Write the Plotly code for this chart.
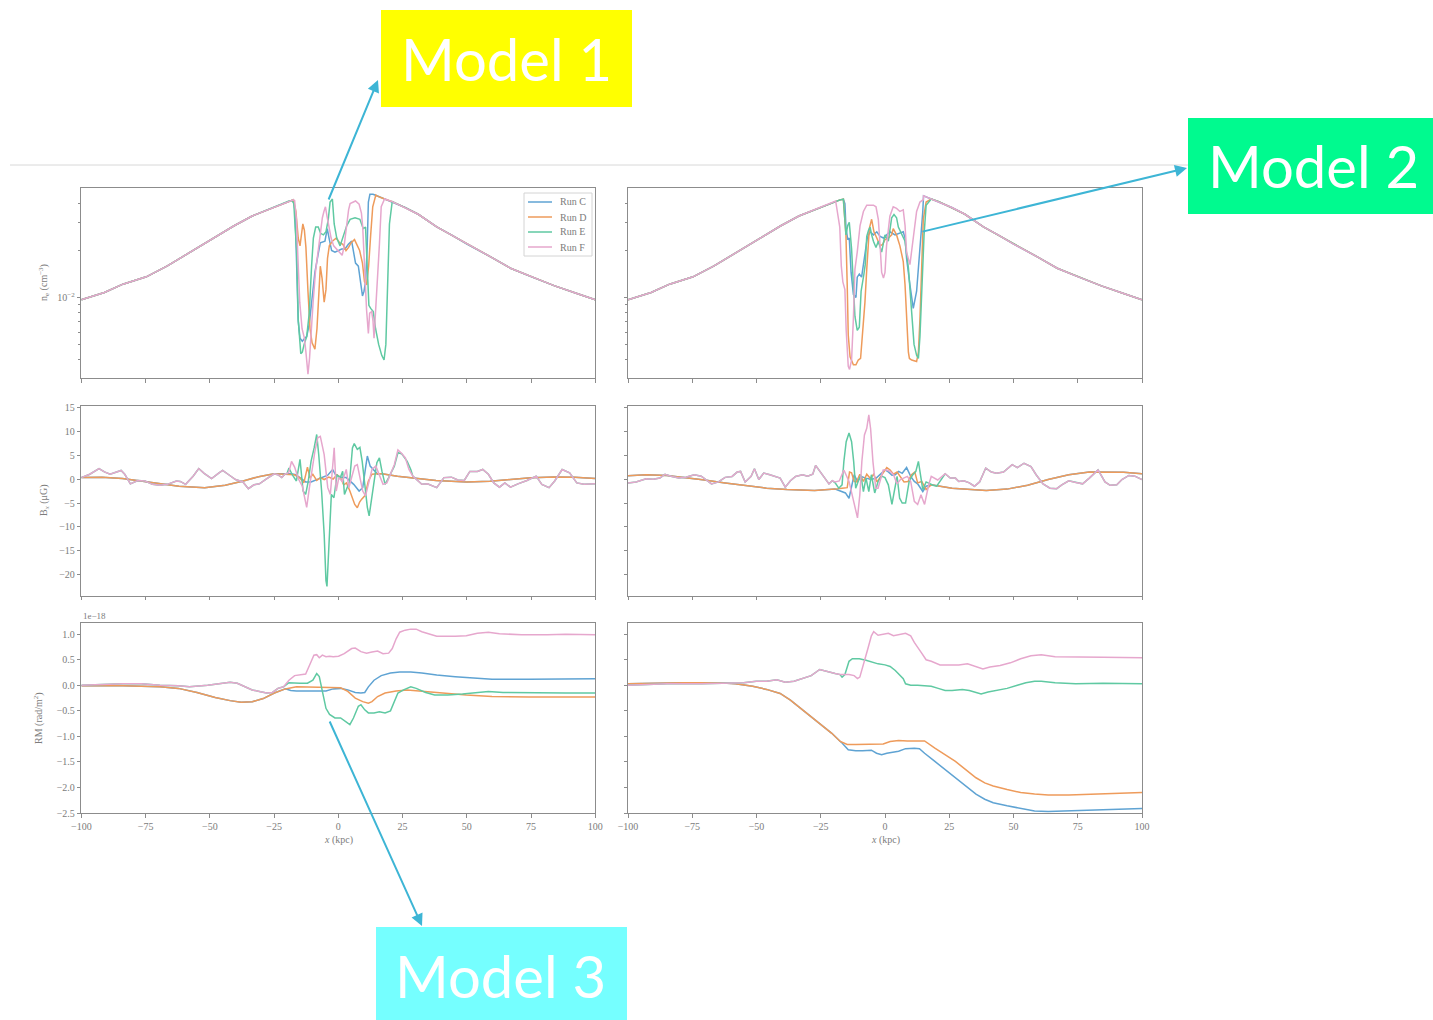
import plotly.graph_objects as go

W, H = 1433, 1020

RUNS = ["Run C", "Run D", "Run E", "Run F"]
COLORS = ["#5fa3d3", "#ee9b5b", "#5fc9a2", "#e6a7cd"]

X_TICKS = [-100, -75, -50, -25, 0, 25, 50, 75, 100]
X_TICK_TEXT = ["−100", "−75", "−50", "−25", "0", "25", "50", "75", "100"]
BX_TICKS = [-20, -15, -10, -5, 0, 5, 10, 15]
BX_TICK_TEXT = ["−20", "−15", "−10", "−5", "0", "5", "10", "15"]
RM_TICKS = [-2.5, -2.0, -1.5, -1.0, -0.5, 0.0, 0.5, 1.0]
RM_TICK_TEXT = ["−2.5", "−2.0", "−1.5", "−1.0", "−0.5", "0.0", "0.5", "1.0"]
NE_MINOR = [0.003, 0.004, 0.005, 0.006, 0.007, 0.008, 0.009, 0.02, 0.03, 0.04]

# ---------------- electron density, log10(n_e / cm^-3) ----------------
# undisturbed cluster profile shared by every run
NE_PROFILE_L_X = [-100, -91, -83.8, -74.7, -66.5, -59.4, -49.9, -40.7, -33.5, -24.9, -21.4, -19.2, -17.5, -16.2]
NE_PROFILE_L = [-2.015, -1.968, -1.915, -1.868, -1.798, -1.728, -1.638, -1.543, -1.479, -1.421, -1.400, -1.383, -1.376, -1.372]
NE_PROFILE_R_X = [12.5, 15, 18, 21, 26, 31.1, 38.3, 44, 50.2, 59.8, 67.0, 75.2, 84.2, 92, 100]
NE_PROFILE_R = [-1.335, -1.350, -1.370, -1.387, -1.425, -1.468, -1.549, -1.600, -1.660, -1.745, -1.813, -1.868, -1.926, -1.970, -2.015]

# Model 1 cores
NE1_C_X = [-16.8, -16.2, -15.6, -14.9, -14.0, -13.0, -12.3, -11.3, -10.4, -9.1, -7.8, -7.0, -5.2, -4.3, -3.6, -2.6, -1.3, 0.0, 1.3, 2.6, 3.9, 5.2, 6.0, 6.7, 7.8, 8.3, 8.9, 9.4, 10.0, 10.6, 11.2, 11.7, 12.3, 13.5]
NE1_C = [-1.45, -1.80, -2.15, -2.26, -2.28, -2.26, -2.25, -2.17, -2.03, -1.84, -1.72, -1.65, -1.64, -1.56, -1.62, -1.70, -1.71, -1.70, -1.69, -1.69, -1.66, -1.64, -1.72, -1.78, -1.80, -1.87, -1.96, -1.99, -1.96, -1.90, -1.70, -1.39, -1.34, -1.34]
NE1_D_X = [-16.5, -15.6, -14.9, -14.3, -13.8, -13.2, -12.6, -11.8, -11.0, -10.2, -9.1, -8.3, -7.6, -7.0, -6.3, -5.5, -4.8, -4.2, -3.5, -2.3, -0.8, 0.5, 1.8, 3.0, 4.0, 5.0, 6.3, 7.3, 8.3, 9.4, 10.2, 11.0, 11.8, 12.6, 13.4, 14.6]
NE1_D = [-1.45, -1.62, -1.67, -1.58, -1.53, -1.57, -1.68, -1.96, -2.20, -2.29, -2.33, -2.20, -1.95, -1.80, -1.88, -2.03, -1.95, -1.75, -1.67, -1.64, -1.62, -1.65, -1.66, -1.70, -1.68, -1.65, -1.63, -1.66, -1.70, -1.78, -1.90, -1.92, -1.80, -1.60, -1.42, -1.345]
NE1_E_X = [-18.0, -17.3, -16.8, -16.2, -15.6, -15.0, -14.6, -14.0, -13.3, -12.3, -11.3, -10.4, -9.7, -8.8, -7.8, -6.9, -5.8, -4.8, -3.9, -3.2, -2.3, -1.6, -0.6, 0.7, 1.5, 2.6, 3.3, 4.6, 6.5, 8.4, 9.7, 10.6, 11.3, 11.9, 12.6, 13.6, 14.5, 15.7, 16.9, 17.8, 18.5, 19.1, 19.9, 20.8]
NE1_E = [-1.38, -1.40, -1.55, -1.70, -2.14, -2.31, -2.36, -2.35, -2.30, -2.25, -2.10, -1.80, -1.62, -1.55, -1.55, -1.59, -1.60, -1.58, -1.50, -1.39, -1.37, -1.53, -1.62, -1.67, -1.63, -1.58, -1.54, -1.50, -1.49, -1.50, -1.56, -1.55, -1.82, -2.05, -2.07, -2.09, -2.20, -2.30, -2.37, -2.40, -2.30, -1.92, -1.53, -1.41]
NE1_F_X = [-17.0, -16.3, -15.8, -15.0, -14.1, -13.2, -12.6, -12.2, -11.8, -11.2, -10.6, -9.8, -8.9, -8.0, -7.1, -6.2, -5.6, -5.0, -4.4, -3.6, -2.8, -1.8, -0.6, 0.5, 1.5, 2.2, 2.8, 3.4, 4.0, 4.6, 5.8, 6.7, 8.1, 9.0, 9.5, 10.3, 11.0, 11.7, 12.2, 13.0, 13.5, 13.9, 14.5, 15.3, 16.0, 16.7, 17.5]
NE1_F = [-1.38, -1.50, -1.71, -2.03, -2.20, -2.26, -2.35, -2.44, -2.49, -2.39, -2.22, -2.03, -1.84, -1.71, -1.62, -1.49, -1.45, -1.42, -1.48, -1.55, -1.62, -1.67, -1.69, -1.71, -1.73, -1.68, -1.60, -1.54, -1.44, -1.40, -1.39, -1.383, -1.404, -1.46, -1.55, -1.87, -2.08, -2.23, -2.10, -2.09, -2.15, -2.26, -2.10, -1.85, -1.66, -1.42, -1.39]

# Model 2 cores
NE2_C_X = [-15.6, -15.2, -14.5, -13.9, -13.2, -12.3, -11.3, -10.8, -10.0, -9.1, -7.8, -6.9, -5.8, -4.5, -3.2, -1.9, -0.6, 0.6, 1.9, 3.9, 5.8, 7.1, 7.8, 8.4, 9.7, 11.0, 12.3, 13.6, 14.7]
NE2_C = [-1.40, -1.55, -1.63, -1.62, -1.84, -1.98, -2.00, -1.87, -1.85, -1.87, -1.72, -1.62, -1.58, -1.60, -1.58, -1.61, -1.62, -1.60, -1.58, -1.60, -1.59, -1.58, -1.62, -1.75, -1.92, -2.07, -1.96, -1.70, -1.45]
NE2_D_X = [-15.2, -14.7, -14.3, -13.6, -13.0, -12.3, -11.3, -10.4, -9.5, -8.7, -7.8, -7.1, -6.1, -5.2, -4.3, -3.2, -1.9, -0.9, 0.0, 1.3, 2.6, 3.2, 4.5, 5.8, 7.1, 7.8, 8.4, 9.1, 9.5, 10.4, 12.3, 13.0, 13.6, 14.3, 14.9, 16.0]
NE2_D = [-1.60, -1.92, -2.24, -2.38, -2.41, -2.43, -2.43, -2.40, -2.39, -2.24, -2.03, -1.82, -1.56, -1.50, -1.58, -1.62, -1.67, -1.66, -1.63, -1.62, -1.60, -1.56, -1.60, -1.67, -1.77, -1.92, -2.14, -2.35, -2.39, -2.40, -2.41, -2.35, -2.14, -1.82, -1.50, -1.39]
NE2_E_X = [-15.6, -15.2, -14.5, -13.9, -13.0, -12.3, -11.7, -10.8, -10.0, -9.3, -8.7, -8.2, -7.7, -7.1, -6.4, -5.8, -5.2, -4.5, -3.5, -2.6, -1.3, -0.6, 0.0, 1.3, 2.6, 3.5, 4.5, 5.2, 6.5, 7.8, 9.1, 10.4, 11.3, 12.3, 13.0, 13.6, 14.3, 15.2, 16.0]
NE2_E = [-1.50, -1.60, -1.54, -1.52, -1.69, -1.95, -2.12, -2.21, -2.19, -1.96, -1.91, -1.85, -1.79, -1.61, -1.57, -1.55, -1.60, -1.64, -1.68, -1.64, -1.71, -1.64, -1.60, -1.64, -1.49, -1.47, -1.49, -1.55, -1.60, -1.64, -1.81, -2.07, -2.30, -2.37, -2.39, -2.25, -1.92, -1.60, -1.41]
NE2_F_X = [-17.6, -17.0, -16.4, -15.6, -15.1, -14.3, -13.8, -13.0, -12.3, -11.7, -10.8, -9.7, -8.4, -7.1, -5.8, -4.5, -3.5, -2.6, -1.9, -1.3, -0.6, 0.0, 0.6, 1.9, 3.2, 4.5, 5.8, 7.1, 7.8, 8.4, 9.7, 11.0, 12.3, 13.6, 14.9]
NE2_F = [-1.55, -1.80, -1.90, -1.95, -2.21, -2.44, -2.46, -2.40, -2.135, -1.82, -1.71, -1.54, -1.45, -1.41, -1.41, -1.41, -1.42, -1.50, -1.67, -1.84, -1.876, -1.84, -1.67, -1.48, -1.42, -1.43, -1.45, -1.44, -1.54, -1.71, -1.79, -1.60, -1.45, -1.39, -1.375]

# ---------------- B_x (muG) ----------------
# Model 1: smooth field (C, D) and turbulent field (E, F) outside the core
BX1_SMOOTH_X = [-100, -92, -84, -77, -70, -62, -52, -44, -37, -31, -25, -20, 17, 23, 29.6, 38, 50, 59, 67, 75, 84, 92, 100]
BX1_SMOOTH = [0.3, 0.4, 0.1, -0.4, -1.0, -1.5, -1.8, -1.3, -0.4, 0.5, 1.1, 1.0, 1.1, 0.6, 0.2, -0.3, -0.6, -0.45, -0.1, 0.25, 0.45, 0.4, 0.1]
BX1_TURB_X = [-100, -96.7, -93.1, -91, -88.8, -86.6, -84.5, -83.1, -80.9, -78, -75.2, -72.3, -69.4, -66.5, -63, -61.5, -59.4, -56.5, -54.3, -52.2, -49.3, -46.4, -45, -42.9, -40, -37.1, -35, -32.8, -30.7, -27.8, -24.9, -23.5, -22, -20.6,
              29.6, 32.5, 34.7, 36.5, 38.3, 41.1, 44.0, 46.5, 49, 51.2, 54.1, 56.2, 58.4, 60.5, 62.7, 64.8, 67, 69.9, 73.4, 77, 79.2, 82, 84.2, 87.1, 90, 92.8, 95.6, 100]
BX1_TURB = [0.3, 1.0, 2.2, 1.5, 1.0, 1.4, 1.8, 1.0, -1.0, -0.3, -0.4, -1.1, -1.3, -1.1, -0.4, -0.5, -1.1, 0.6, 2.2, 1.2, 0.1, 1.3, 1.8, 1.0, -0.1, -0.6, -2.0, -1.2, -1.0, 0.1, 1.1, 0.9, 0.3, 1.1,
            0.3, -1.1, -1.0, -1.4, -1.8, 0.3, 0.4, -0.2, -0.3, 1.6, 1.6, 2.0, 1.0, -0.8, -1.7, -0.8, -1.7, -1.0, -0.3, 0.6, -1.1, -1.8, -0.4, 2.0, 1.3, -0.8, -1.1, -1.0]
BX1_C_X = [-19.2, -18.4, -16.5, -15.1, -13.7, -12.7, -10.6, -8.4, -6.2, -4.1, -2.2, -1.2, 0.2, 1.6, 3.1, 4.5, 6.0, 8.1, 9.5, 10.7, 11.3, 12.4, 13.8, 15.3, 16.5]
BX1_C = [1.0, 1.1, 0.9, 0.3, -0.3, -0.6, -0.6, -0.1, 0.3, 0.8, 2.0, 1.0, 0.6, 0.3, 0.3, -0.3, -1.1, -2.5, -1.8, 2.7, 4.8, 2.7, 1.8, 1.0, 1.1]
BX1_D_X = [-19.2, -17.1, -15.1, -13.4, -12.0, -11.0, -9.9, -8.4, -7.0, -5.5, -3.7, -2.0, -0.5, 0.9, 2.1, 3.2, 4.5, 6.4, 7.4, 8.3, 9.1, 10.3, 11.7, 13.1, 15.3, 16.5]
BX1_D = [1.0, 0.9, 0.3, -0.8, 2.5, 0.2, 1.0, -0.3, 0.3, -0.1, 0.4, 0.0, 0.9, 0.3, -1.2, -0.8, -2.5, -5.3, -6.0, -4.8, -4.2, -3.5, -0.4, 1.0, 1.1, 1.1]
BX1_E_X = [-20.0, -19.2, -17.8, -16.3, -14.9, -13.7, -12.7, -11.7, -10.6, -9.4, -8.4, -7.6, -6.5, -5.5, -4.8, -4.4, -3.7, -2.7, -1.7, -0.5, 0.7, 1.7, 2.4, 3.4, 4.4, 5.5, 6.2, 7.4, 8.4, 9.3, 10.3, 11.3, 12.0, 12.7, 13.8, 15.0, 16.0, 17.0, 18.2, 19.6, 21.8, 23.2, 24.6, 26.8, 28.2, 29.0]
BX1_E = [1.1, 2.3, 0.8, -0.4, 4.1, -2.5, -3.2, -0.5, 3.7, 6.5, 9.3, 5.0, -2.5, -11.5, -21.2, -22.4, -15.6, -3.2, -3.9, 0.9, 0.2, 1.6, -3.2, -1.9, -0.5, 6.5, 7.4, 6.2, 6.6, 3.7, -1.8, -5.9, -7.7, -4.6, -1.0, 3.4, 4.4, 1.6, -1.1, 0.3, 2.7, 5.5, 5.3, 3.7, 2.0, 0.6]
BX1_F_X = [-20.0, -19.2, -18.2, -17.0, -15.5, -14.0, -12.3, -11.3, -10.3, -9.1, -8.0, -7.0, -5.5, -4.1, -3.1, -2.3, -1.6, -0.8, 0.2, 1.6, 3.1, 4.1, 5.2, 6.4, 7.4, 8.4, 9.5, 10.6, 11.8, 13.1, 14.6, 16.0, 17.4, 18.9, 20.3, 21.8, 23.2, 24.6, 26.1, 27.5, 29.0]
BX1_F = [1.1, 1.5, 3.7, 2.5, 0.0, -1.5, -5.9, -2.0, 1.6, 5.8, 8.6, 8.9, 5.1, -1.8, -3.2, 1.5, 6.5, -2.5, 0.3, -0.5, 2.0, -1.8, 0.5, 2.7, 3.0, 0.6, -2.5, -3.5, -1.0, 2.0, 2.7, 0.6, -1.1, -0.8, 1.0, 3.0, 6.1, 5.4, 4.4, 2.0, 0.6]

# Model 2
BX2_SMOOTH_X = [-100, -92.9, -84.9, -78.2, -70.2, -62.2, -54.1, -46.1, -38.1, -27.4, -19.4, 18.0, 26.1, 34.1, 39.4, 47.5, 55.5, 63.5, 71.5, 79.5, 86.2, 92.9, 100]
BX2_SMOOTH = [0.7, 0.9, 0.76, 0.35, -0.2, -0.8, -1.4, -1.9, -2.2, -2.4, -2.1, -1.2, -1.9, -2.2, -2.4, -2.1, -1.3, -0.1, 0.9, 1.46, 1.5, 1.4, 1.1]
BX2_TURB_X = [-100, -96.9, -92.9, -90.2, -87.6, -85.6, -82.9, -80.2, -77.5, -74.2, -71.5, -69.9, -67.5, -64.8, -62.2, -59.5, -57.5, -56.2, -54.4, -52.1, -50.8, -49.1, -47.2, -44.8, -42.8, -40.8, -38.8, -36.8, -34.8, -32.1, -30.1, -28.1, -27.0, -25.4, -23.4, -21.8, -20.5,
              18.0, 20.5, 23.4, 25.4, 27.4, 28.7, 30.7, 32.8, 34.8, 36.8, 39.2, 41.4, 43.4, 46.1, 49.5, 51.5, 54.1, 56.8, 58.8, 61.5, 64.2, 66.8, 68.8, 71.5, 74.2, 76.9, 79.5, 82.9, 85.6, 87.6, 90.2, 92.2, 94.9, 97.2, 100]
BX2_TURB = [-0.8, -0.6, 0.07, -0.05, 0.2, 1.0, 0.55, 0.2, 0.4, 0.9, 0.6, -0.1, -1.0, -0.6, 0.35, 0.55, 1.46, 1.6, -0.6, 0.55, 2.15, -0.1, 1.25, 0.9, 0.55, 0.2, -1.7, -0.35, 0.55, 0.9, 0.6, 1.0, 2.85, 1.6, 0.2, -1.0, -0.35,
            -1.2, -0.2, 1.1, 0.2, 0.2, -0.5, -0.35, -0.8, -1.5, -0.6, 2.3, 1.46, 1.2, 1.46, 3.0, 2.4, 3.3, 2.6, 0.9, -1.0, -1.9, -2.0, -1.2, -0.35, -0.7, -1.0, 0.2, 1.9, -0.6, -1.3, -1.2, -0.1, 0.76, 0.6, -0.1]
BX2_C_X = [-18.5, -17.4, -15.4, -14.0, -13.0, -12.0, -10.7, -9.4, -7.4, -5.4, -3.4, -2.0, 0.0, 1.3, 2.7, 4.0, 5.3, 6.7, 8.4, 10.0, 11.4, 12.7, 14.7, 16.0, 17.4]
BX2_C = [-2.3, -2.6, -2.9, -4.0, -1.5, 0.9, -0.5, 0.55, 0.2, -0.1, 0.2, 0.9, 1.9, 1.5, 0.8, 0.9, 1.6, 1.2, 2.4, 0.55, -0.5, -1.0, -2.6, -1.5, -1.3]
BX2_D_X = [-18.5, -16.7, -14.7, -13.8, -13.0, -12.0, -11.1, -9.8, -8.4, -7.1, -5.7, -4.4, -3.1, -2.0, -0.9, 0.7, 2.0, 3.3, 4.7, 6.0, 7.4, 9.0, 10.3, 11.6, 12.7, 14.3, 16.0, 17.4]
BX2_D = [-2.0, -1.9, -1.8, 1.46, 1.3, -0.5, -0.6, 1.0, -0.5, 1.0, 0.1, 1.0, -0.6, 0.3, 1.25, 2.4, 1.9, 1.0, 1.46, 0.55, -0.6, -0.5, 0.9, 1.46, -0.8, -0.5, -2.2, -1.5]
BX2_E_X = [-19.4, -18.0, -16.7, -16.0, -15.1, -14.0, -13.0, -12.2, -11.4, -10.5, -9.4, -8.4, -7.4, -6.3, -5.3, -4.0, -2.7, -1.3, 0.0, 1.3, 2.7, 3.6, 4.7, 5.7, 6.7, 8.0, 9.4, 10.7, 12.0, 13.0, 13.8, 14.7, 16.0, 17.4, 18.7, 20.1, 21.5, 23.4]
BX2_E = [-0.8, -1.9, -1.2, 3.7, 7.8, 9.6, 7.8, 3.7, -1.9, -0.6, 0.9, -2.6, 0.2, -2.6, 0.9, -2.9, -0.5, 0.6, 0.3, -1.2, -5.3, -2.6, 0.55, -4.0, -5.0, -5.0, -0.5, 0.8, 1.6, 3.7, 0.5, -2.2, -0.6, -1.0, -1.3, -1.5, -0.4, 1.1]
BX2_F_X = [-19.4, -17.8, -16.0, -14.0, -12.7, -11.6, -10.7, -9.8, -9.0, -8.0, -7.1, -6.3, -5.6, -4.7, -3.6, -2.7, -0.7, 0.7, 2.0, 3.3, 4.7, 6.0, 7.4, 8.7, 10.0, 11.4, 12.7, 14.0, 15.4, 17.0, 18.0]
BX2_F = [-0.6, -0.4, 1.9, -0.5, -3.3, -6.0, -8.1, -3.3, 3.7, 9.2, 10.6, 13.4, 10.5, 3.7, -1.9, -1.9, 1.9, 1.9, 1.6, 0.9, -1.0, -0.1, 0.3, 0.55, -0.5, -4.65, -5.3, -3.3, -5.3, -1.2, 0.55]

# ---------------- rotation measure (1e-18 units) ----------------
RM1_CD_X = [-100, -83.8, -69.4, -62.2, -55, -47.9, -42.1, -37.8, -33.5, -29.2, -24.9, -20.6]
RM1_CD = [-0.01, -0.01, -0.03, -0.06, -0.14, -0.24, -0.30, -0.33, -0.32, -0.26, -0.15, -0.07]
RM1_EF_X = [-100, -91, -83.8, -76.6, -69.4, -62.2, -57.9, -50.8, -47.9, -45, -42.1, -39.3, -36.4, -33.5, -30.7, -27.9, -25.6, -23.5, -21.3]
RM1_EF = [0.0, 0.02, 0.03, 0.03, 0.0, -0.01, -0.03, 0.0, 0.02, 0.05, 0.06, 0.04, -0.03, -0.09, -0.12, -0.15, -0.14, -0.06, -0.03]
RM1_C_X = [-18.5, -16.3, -10.6, -4.8, -2.0, 0.9, 3.7, 6.6, 8.8, 10.3, 11.7, 13.9, 16.7, 20.3, 23.9, 28.2, 32.5, 38.3, 45.5, 52.7, 59.8, 74.2, 100]
RM1_C = [-0.10, -0.11, -0.11, -0.11, -0.07, -0.06, -0.09, -0.14, -0.15, -0.14, -0.03, 0.10, 0.19, 0.24, 0.26, 0.26, 0.24, 0.20, 0.17, 0.14, 0.12, 0.12, 0.13]
RM1_D_X = [-16.3, -10.6, -4.8, 0.9, 3.7, 6.6, 9.5, 11.7, 13.1, 15.3, 18.2, 22.5, 26.8, 32.5, 38.3, 49.8, 59.8, 74.2, 100]
RM1_D = [-0.03, -0.04, -0.04, -0.05, -0.12, -0.25, -0.32, -0.35, -0.32, -0.22, -0.15, -0.11, -0.09, -0.11, -0.14, -0.19, -0.22, -0.23, -0.23]
RM1_E_X = [-19.2, -14.9, -12.0, -9.9, -8.4, -7.4, -6.2, -4.8, -3.4, -1.3, 0.9, 3.4, 4.5, 5.9, 7.8, 8.8, 10.3, 11.7, 13.9, 16.0, 18.2, 20.3, 21.8, 23.2, 25.4, 28.2, 30.3, 34, 37.5, 42.6, 48.3, 54.1, 58.4, 64.1, 74.2, 88.5, 100]
RM1_E = [0.05, 0.04, 0.04, 0.10, 0.23, 0.17, -0.12, -0.45, -0.57, -0.64, -0.64, -0.74, -0.77, -0.64, -0.41, -0.38, -0.48, -0.54, -0.54, -0.52, -0.54, -0.50, -0.32, -0.15, -0.09, -0.03, -0.06, -0.14, -0.19, -0.19, -0.17, -0.14, -0.12, -0.14, -0.15, -0.15, -0.15]
RM1_F_X = [-19.2, -17.0, -14.9, -12.7, -10.6, -9.5, -8.4, -7.4, -6.2, -4.8, -3.4, -2.0, 0.1, 2.3, 5.2, 6.6, 8.8, 11.0, 13.1, 15.3, 17.4, 19.6, 21.0, 22.5, 23.9, 26.0, 28.2, 30.3, 32.5, 35.4, 38.3, 45.5, 49.8, 54.1, 58.4, 62.7, 71.3, 81.3, 88.5, 100]
RM1_F = [0.10, 0.19, 0.20, 0.22, 0.46, 0.59, 0.60, 0.54, 0.59, 0.56, 0.57, 0.56, 0.57, 0.62, 0.72, 0.73, 0.66, 0.63, 0.65, 0.67, 0.62, 0.63, 0.72, 0.91, 1.04, 1.08, 1.10, 1.10, 1.05, 1.01, 0.96, 0.96, 0.97, 1.02, 1.04, 1.01, 0.99, 0.99, 1.00, 0.99]

RM2_CD_X = [-100, -91.6, -78.2, -64.8, -58.2, -51.5, -46.1, -40.8, -36.8, -32.8, -28.7, -24.7, -20.7, -17.4]
RM2_CD = [0.03, 0.04, 0.05, 0.05, 0.03, -0.02, -0.08, -0.16, -0.29, -0.45, -0.61, -0.78, -0.94, -1.10]
RM2_EF_X = [-100, -84.9, -71.5, -60.8, -55, -50.1, -46.1, -42.1, -38.8, -35.4, -32.1, -28.7, -25.4, -22.7, -19.4, -17.5]
RM2_EF = [0.0, 0.03, 0.03, 0.04, 0.05, 0.08, 0.08, 0.11, 0.06, 0.08, 0.13, 0.19, 0.31, 0.27, 0.23, 0.21]
RM2_C_X = [-16.7, -14.3, -11.4, -8.7, -5.3, -3.3, -1.3, 0.7, 2.7, 5.3, 8.0, 11.4, 13.4, 15.4, 19.4, 23.4, 27.4, 31.4, 35.4, 38.8, 42.1, 47.5, 52.8, 58.2, 63.5, 71.5, 82.2, 92.9, 100]
RM2_C = [-1.13, -1.26, -1.28, -1.28, -1.27, -1.33, -1.36, -1.33, -1.31, -1.29, -1.24, -1.23, -1.24, -1.33, -1.49, -1.65, -1.81, -1.97, -2.13, -2.23, -2.30, -2.36, -2.41, -2.46, -2.47, -2.46, -2.44, -2.42, -2.41]
RM2_D_X = [-14.7, -11.4, -7.4, -3.3, -0.7, 2.0, 5.3, 8.7, 12.0, 15.4, 19.4, 23.4, 27.4, 31.4, 35.4, 38.8, 42.1, 47.5, 52.8, 58.2, 63.5, 71.5, 82.2, 92.9, 100]
RM2_D = [-1.16, -1.16, -1.16, -1.16, -1.15, -1.10, -1.08, -1.09, -1.09, -1.09, -1.23, -1.36, -1.49, -1.65, -1.81, -1.91, -1.97, -2.04, -2.10, -2.13, -2.15, -2.15, -2.13, -2.12, -2.10]
RM2_E_X = [-16.7, -15.6, -14.0, -12.7, -10.0, -7.4, -4.7, -2.7, 0.0, 2.0, 4.0, 5.3, 7.1, 8.0, 10.0, 12.7, 15.4, 18.0, 20.7, 23.4, 26.1, 30.1, 32.8, 35.4, 37.4, 40.1, 43.4, 47.5, 51.5, 54.8, 58.2, 60.8, 66.2, 74.2, 84.9, 100]
RM2_E = [0.16, 0.21, 0.47, 0.52, 0.52, 0.49, 0.45, 0.42, 0.40, 0.37, 0.29, 0.23, 0.13, 0.03, 0.0, 0.0, -0.01, -0.02, -0.06, -0.10, -0.10, -0.08, -0.10, -0.14, -0.17, -0.13, -0.10, -0.06, 0.0, 0.05, 0.08, 0.08, 0.05, 0.03, 0.04, 0.03]
RM2_F_X = [-16.7, -14.0, -12.0, -10.7, -9.8, -8.4, -6.7, -5.3, -4.4, -2.7, -0.7, 1.3, 3.3, 5.7, 8.0, 10.0, 11.4, 14.0, 16.0, 18.0, 21.4, 24.7, 28.7, 32.1, 34.8, 38.1, 40.8, 44.8, 48.8, 52.8, 56.8, 60.8, 66.2, 75.5, 84.9, 100]
RM2_F = [0.21, 0.21, 0.19, 0.13, 0.16, 0.39, 0.71, 0.97, 1.05, 0.98, 1.00, 1.02, 0.97, 1.00, 1.02, 0.97, 0.84, 0.65, 0.50, 0.47, 0.40, 0.40, 0.40, 0.42, 0.38, 0.32, 0.36, 0.39, 0.44, 0.52, 0.58, 0.60, 0.56, 0.55, 0.55, 0.54]


def splice(base_x, base_y, core_x, core_y):
    """Replace the part of a base profile covered by a run-specific core."""
    lo, hi = core_x[0], core_x[-1]
    left = [(x, y) for x, y in zip(base_x, base_y) if x < lo]
    right = [(x, y) for x, y in zip(base_x, base_y) if x > hi]
    pts = left + list(zip(core_x, core_y)) + right
    return [p[0] for p in pts], [p[1] for p in pts]


NE_BASE_X = NE_PROFILE_L_X + NE_PROFILE_R_X
NE_BASE = NE_PROFILE_L + NE_PROFILE_R

panels = {
    1: [splice(NE_BASE_X, NE_BASE, NE1_C_X, NE1_C), splice(NE_BASE_X, NE_BASE, NE1_D_X, NE1_D),
        splice(NE_BASE_X, NE_BASE, NE1_E_X, NE1_E), splice(NE_BASE_X, NE_BASE, NE1_F_X, NE1_F)],
    2: [splice(NE_BASE_X, NE_BASE, NE2_C_X, NE2_C), splice(NE_BASE_X, NE_BASE, NE2_D_X, NE2_D),
        splice(NE_BASE_X, NE_BASE, NE2_E_X, NE2_E), splice(NE_BASE_X, NE_BASE, NE2_F_X, NE2_F)],
    3: [splice(BX1_SMOOTH_X, BX1_SMOOTH, BX1_C_X, BX1_C), splice(BX1_SMOOTH_X, BX1_SMOOTH, BX1_D_X, BX1_D),
        splice(BX1_TURB_X, BX1_TURB, BX1_E_X, BX1_E), splice(BX1_TURB_X, BX1_TURB, BX1_F_X, BX1_F)],
    4: [splice(BX2_SMOOTH_X, BX2_SMOOTH, BX2_C_X, BX2_C), splice(BX2_SMOOTH_X, BX2_SMOOTH, BX2_D_X, BX2_D),
        splice(BX2_TURB_X, BX2_TURB, BX2_E_X, BX2_E), splice(BX2_TURB_X, BX2_TURB, BX2_F_X, BX2_F)],
    5: [splice(RM1_CD_X, RM1_CD, RM1_C_X, RM1_C), splice(RM1_CD_X, RM1_CD, RM1_D_X, RM1_D),
        splice(RM1_EF_X, RM1_EF, RM1_E_X, RM1_E), splice(RM1_EF_X, RM1_EF, RM1_F_X, RM1_F)],
    6: [splice(RM2_CD_X, RM2_CD, RM2_C_X, RM2_C), splice(RM2_CD_X, RM2_CD, RM2_D_X, RM2_D),
        splice(RM2_EF_X, RM2_EF, RM2_E_X, RM2_E), splice(RM2_EF_X, RM2_EF, RM2_F_X, RM2_F)],
}


def px(x):
    return x / W


def py(y):
    return 1 - y / H


COL_PX = [(81.3, 595.3), (628.0, 1142.0)]
ROW_PX = [(188.0, 378.0), (405.5, 595.5), (623.0, 813.0)]

AX_GRAY = "#8c8c8c"
TXT_GRAY = "#7c7c7c"
SERIF = "Liberation Serif, Times New Roman, serif"

fig = go.Figure()

for k, runs in panels.items():
    for i, (xs, ys) in enumerate(runs):
        if k in (1, 2):
            ys = [10 ** v for v in ys]
        fig.add_trace(go.Scatter(
            x=xs, y=ys, mode="lines", name=RUNS[i],
            line=dict(color=COLORS[i], width=1.5),
            xaxis=f"x{k}", yaxis=f"y{k}", showlegend=False,
        ))

layout = dict(
    width=W, height=H,
    margin=dict(l=0, r=0, t=0, b=0, pad=0, autoexpand=False),
    paper_bgcolor="white", plot_bgcolor="white",
    showlegend=False,
)

for k in range(1, 7):
    row = (k - 1) // 2
    col = (k - 1) % 2
    x0, x1 = COL_PX[col]
    y0, y1 = ROW_PX[row]
    xname = "xaxis" if k == 1 else f"xaxis{k}"
    yname = "yaxis" if k == 1 else f"yaxis{k}"
    common = dict(showline=True, mirror=True, linecolor=AX_GRAY, linewidth=1,
                  ticks="outside", tickcolor=AX_GRAY, ticklen=3.5, tickwidth=1,
                  showgrid=False, zeroline=False, automargin=False,
                  tickfont=dict(family=SERIF, size=10, color=TXT_GRAY))
    layout[xname] = dict(common, domain=[px(x0), px(x1)], range=[-100, 100],
                         anchor=f"y{k}", tickvals=X_TICKS, ticktext=X_TICK_TEXT,
                         showticklabels=(row == 2))
    ydict = dict(common, domain=[py(y1), py(y0)], anchor=f"x{k}",
                 showticklabels=(col == 0))
    if row == 0:
        ydict.update(type="log", range=[-2.515, -1.300], tickvals=[0.01],
                     ticktext=["10<sup>−2</sup>"],
                     minor=dict(tickvals=NE_MINOR, ticks="outside", ticklen=2,
                                tickcolor=AX_GRAY, showgrid=False))
    elif row == 1:
        ydict.update(range=[-24.3, 15.35], tickvals=BX_TICKS, ticktext=BX_TICK_TEXT)
    else:
        ydict.update(range=[-2.5, 1.22], tickvals=RM_TICKS, ticktext=RM_TICK_TEXT)
    layout[yname] = ydict

fig.update_layout(**layout)

annotations = []
shapes = []


def label(x, y, text, size=10, angle=0, xanchor="center", color=TXT_GRAY, family=SERIF):
    return dict(x=px(x), y=py(y), xref="paper", yref="paper", text=text,
                textangle=angle, showarrow=False, xanchor=xanchor, yanchor="middle",
                font=dict(family=family, size=size, color=color))


# axis titles
annotations += [
    label(44, 283, "n<sub>e</sub> (cm<sup>−3</sup>)", angle=-90),
    label(44, 500, "B<sub><i>x</i></sub> (μG)", angle=-90),
    label(38, 718, "RM (rad/m<sup>2</sup>)", angle=-90),
    label(81, 616, "1e−18", size=9, xanchor="left"),
    label(338.3, 840, "<i>x</i> (kpc)"),
    label(885, 840, "<i>x</i> (kpc)"),
]

# legend of the first density panel
LEG_X0, LEG_Y0, LEG_X1, LEG_Y1 = 524, 193, 592, 256
shapes.append(dict(type="rect", xref="paper", yref="paper",
                   x0=px(LEG_X0), x1=px(LEG_X1), y0=py(LEG_Y1), y1=py(LEG_Y0),
                   line=dict(color="#d4d4d4", width=1), fillcolor="rgba(255,255,255,0.85)"))
for i, name in enumerate(RUNS):
    yy = 202 + 15 * i
    shapes.append(dict(type="line", xref="paper", yref="paper",
                       x0=px(528), x1=px(552), y0=py(yy), y1=py(yy),
                       line=dict(color=COLORS[i], width=1.5)))
    annotations.append(label(558, yy, name, xanchor="left"))

# thin separator
shapes.append(dict(type="line", xref="paper", yref="paper", x0=px(10), x1=px(1433),
                   y0=py(165), y1=py(165), line=dict(color="#d8d8d8", width=1)))

# model call-outs
BOXES = [
    ("Model 1", (381, 10, 632, 107), "#ffff00", (506, 58)),
    ("Model 2", (1188, 118, 1433, 214), "#00fa8f", (1313, 166)),
    ("Model 3", (376, 927, 627, 1020), "#75ffff", (500, 975)),
]
for text, (bx0, by0, bx1, by1), fill, (tx, ty) in BOXES:
    shapes.append(dict(type="rect", xref="paper", yref="paper",
                       x0=px(bx0), x1=px(bx1), y0=py(by1), y1=py(by0),
                       line=dict(width=0), fillcolor=fill))
    annotations.append(label(tx, ty, text, size=58, color="white",
                             family="Lato, Open Sans, sans-serif"))

ARROWS = [((378, 80), (328, 201)), ((1187, 168), (921, 232)), ((422, 926), (329, 720))]
for (hx, hy), (tx, ty) in ARROWS:
    annotations.append(dict(x=px(hx), y=py(hy), xref="paper", yref="paper", text="",
                            showarrow=True, ax=tx - hx, ay=ty - hy, axref="pixel", ayref="pixel",
                            arrowhead=2, arrowsize=1.2, arrowwidth=2, arrowcolor="#3db5d5",
                            standoff=0, startstandoff=0))

fig.update_layout(annotations=annotations, shapes=shapes)

# page body without default margins so the figure fills the window exactly
fig.write_html("out.html", post_script="document.body.style.margin='0px';")
